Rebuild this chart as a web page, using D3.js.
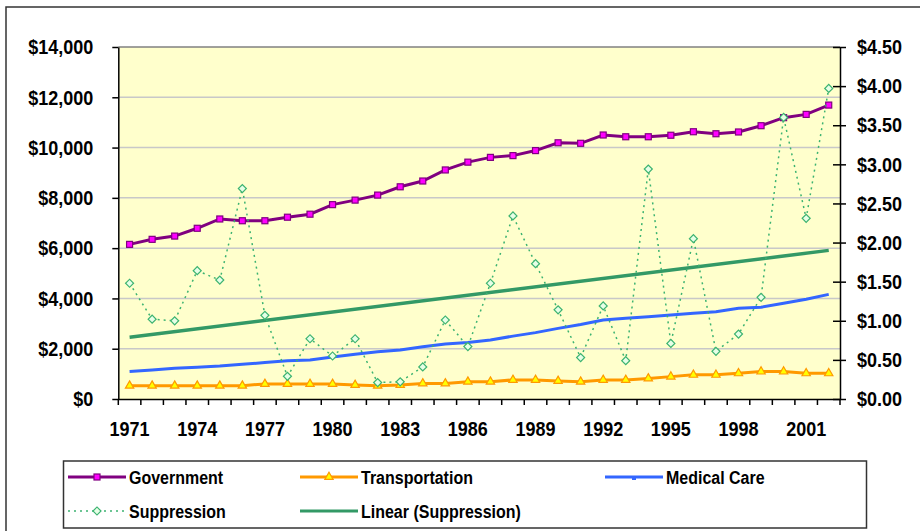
<!DOCTYPE html>
<html>
<head>
<meta charset="utf-8">
<script src="https://cdn.jsdelivr.net/npm/d3@7"></script>
<style>
    body { margin: 0; background: #fff; }
    text { font-family: "Liberation Sans", Arial, sans-serif; font-weight: bold; fill: #000; }
</style>
</head>
<body>
<div id="chart"></div>
<script>
// categories
const years = [1971, 1972, 1973, 1974, 1975, 1976, 1977, 1978, 1979, 1980,
    1981, 1982, 1983, 1984, 1985, 1986, 1987, 1988, 1989, 1990,
    1991, 1992, 1993, 1994, 1995, 1996, 1997, 1998, 1999, 2000,
    2001, 2002];
const yearLabels = [1971, 1974, 1977, 1980, 1983, 1986, 1989, 1992, 1995, 1998, 2001];

// left axis series (dollars)
const government = [6150, 6350, 6480, 6790, 7160, 7090, 7090, 7230, 7350, 7730,
    7910, 8110, 8440, 8670, 9110, 9420, 9610, 9680, 9880, 10190,
    10170, 10500, 10430, 10430, 10490, 10630, 10550, 10620, 10870, 11190,
    11320, 11690];
const transportation = [530, 530, 530, 530, 530, 530, 600, 600, 600, 600,
    560, 530, 560, 620, 620, 690, 690, 760, 760, 720,
    690, 760, 760, 820, 890, 960, 960, 1020, 1090, 1090,
    1020, 1020];
const medical = [1090, 1150, 1220, 1260, 1310, 1380, 1450, 1520, 1550, 1670,
    1780, 1880, 1950, 2080, 2190, 2250, 2350, 2500, 2640, 2810,
    2960, 3140, 3210, 3270, 3340, 3410, 3470, 3610, 3650, 3810,
    3970, 4160];

// right axis series
const suppression = [1.48, 1.02, 1.00, 1.64, 1.52, 2.69, 1.07, 0.29, 0.77, 0.55,
    0.77, 0.21, 0.22, 0.41, 1.01, 0.67, 1.48, 2.34, 1.73, 1.14,
    0.53, 1.19, 0.49, 2.94, 0.71, 2.05, 0.61, 0.83, 1.30, 3.60,
    2.31, 3.97];
// linear trend of suppression, read at first and last year
const trendYears = [1971, 2002];
const trendValues = [0.79, 1.90];

const leftTicks = [0, 2000, 4000, 6000, 8000, 10000, 12000, 14000];
const rightTicks = [0, 0.5, 1, 1.5, 2, 2.5, 3, 3.5, 4, 4.5];

const width = 920, height = 531;
const margin = {top: 47, left: 118.3, right: 80, bottom: 132};
const plotW = width - margin.left - margin.right;
const plotH = height - margin.top - margin.bottom;

const svg = d3.select("#chart").append("svg")
    .attr("width", width)
    .attr("height", height);

// outer frame
svg.append("rect")
    .attr("x", 6).attr("y", 7)
    .attr("width", width).attr("height", height)
    .attr("fill", "none")
    .attr("stroke", "#333")
    .attr("stroke-width", 1.5);

const g = svg.append("g")
    .attr("transform", `translate(${margin.left}, ${margin.top})`);

const x = d3.scaleBand()
    .domain(years)
    .range([0, plotW]);

const yLeft = d3.scaleLinear()
    .domain([0, 14000])
    .range([plotH, 0]);

const yRight = d3.scaleLinear()
    .domain([0, 4.5])
    .range([plotH, 0]);

const cx = d => x(d) + x.bandwidth() / 2;

// plot background
g.append("rect")
    .attr("width", plotW)
    .attr("height", plotH)
    .attr("fill", "#FFFFCC");

// gridlines
g.selectAll(".grid")
    .data(leftTicks.slice(1))
    .join("line")
    .attr("x1", 0).attr("x2", plotW)
    .attr("y1", d => yLeft(d)).attr("y2", d => yLeft(d))
    .attr("stroke", d => d === 14000 ? "#808080" : "#C8C8C8")
    .attr("stroke-width", 1.5);

// axes
const fmtLeft = d => "$" + d3.format(",")(d);
const fmtRight = d => "$" + d3.format(".2f")(d);

const leftAxis = g.append("g")
    .call(d3.axisLeft(yLeft).tickValues(leftTicks).tickFormat(fmtLeft)
        .tickSize(6).tickSizeOuter(0).tickPadding(19));

const rightAxis = g.append("g")
    .attr("transform", `translate(${plotW}, 0)`)
    .call(d3.axisRight(yRight).tickValues(rightTicks).tickFormat(fmtRight)
        .tickSize(6).tickSizeOuter(0).tickPadding(11));
rightAxis.selectAll(".tick line").attr("x1", -7);

const bottomAxis = g.append("g")
    .attr("transform", `translate(0, ${plotH})`)
    .call(d3.axisBottom(x).tickValues(yearLabels).tickSize(0).tickPadding(19));
bottomAxis.selectAll(".tick line").remove();

// tick marks at category boundaries
bottomAxis.selectAll(".bound")
    .data(years.concat([null]))
    .join("line")
    .attr("x1", d => d === null ? plotW : x(d))
    .attr("x2", d => d === null ? plotW : x(d))
    .attr("y1", 0).attr("y2", 6)
    .attr("stroke", "#000")
    .attr("stroke-width", 1.5);

[leftAxis, rightAxis, bottomAxis].forEach(a => {
    a.select(".domain").attr("stroke", "#000").attr("stroke-width", 1.5);
    a.selectAll(".tick line").attr("stroke", "#000").attr("stroke-width", 1.5);
    a.attr("font-family", null).attr("font-size", null);
    a.selectAll("text")
        .style("font-size", "18px")
        .attr("transform", "scale(1,1.17)");
});
bottomAxis.selectAll("text").attr("dy", "0.7em");

// series
const lineOf = (scale, data) => d3.line()
    .x((d, i) => cx(years[i]))
    .y(d => scale(d))(data);

g.append("path")
    .attr("d", lineOf(yLeft, government))
    .attr("fill", "none")
    .attr("stroke", "#800080")
    .attr("stroke-width", 3);

g.selectAll(".gov")
    .data(government)
    .join("rect")
    .attr("x", (d, i) => cx(years[i]) - 3)
    .attr("y", d => yLeft(d) - 3)
    .attr("width", 6).attr("height", 6)
    .attr("fill", "#FF00FF")
    .attr("stroke", "#800080")
    .attr("stroke-width", 1.2);

g.append("path")
    .attr("d", lineOf(yLeft, transportation))
    .attr("fill", "none")
    .attr("stroke", "#FF9900")
    .attr("stroke-width", 3);

const tri = d3.symbol().type(d3.symbolTriangle).size(30);
g.selectAll(".trans")
    .data(transportation)
    .join("path")
    .attr("d", tri)
    .attr("transform", (d, i) => `translate(${cx(years[i])}, ${yLeft(d)})`)
    .attr("fill", "#FFFF00")
    .attr("stroke", "#FF9900")
    .attr("stroke-width", 1.2);

g.append("path")
    .attr("d", lineOf(yLeft, medical))
    .attr("fill", "none")
    .attr("stroke", "#3366FF")
    .attr("stroke-width", 3);

// trend line
g.append("path")
    .attr("d", d3.line()
        .x((d, i) => cx(trendYears[i]))
        .y(d => yRight(d))(trendValues))
    .attr("fill", "none")
    .attr("stroke", "#339966")
    .attr("stroke-width", 3.5);

g.append("path")
    .attr("d", lineOf(yRight, suppression))
    .attr("fill", "none")
    .attr("stroke", "#3CB371")
    .attr("stroke-width", 1.5)
    .attr("stroke-dasharray", "2,4");

// square diamond: a square turned 45 degrees
const diamond = d3.symbol().type(d3.symbolSquare).size(32);
g.selectAll(".sup")
    .data(suppression)
    .join("path")
    .attr("d", diamond)
    .attr("transform", (d, i) => `translate(${cx(years[i])}, ${yRight(d)}) rotate(45)`)
    .attr("fill", "#E6FFE6")
    .attr("stroke", "#3CB371")
    .attr("stroke-width", 1.2);

// legend
const legend = svg.append("g");
legend.append("rect")
    .attr("x", 63.5).attr("y", 461)
    .attr("width", 803).attr("height", 67)
    .attr("fill", "#fff")
    .attr("stroke", "#333")
    .attr("stroke-width", 1.5);

const legendItems = [
    {name: "Government", color: "#800080", col: 68, row: 477, mark: "square"},
    {name: "Transportation", color: "#FF9900", col: 300, row: 477, mark: "triangle"},
    {name: "Medical Care", color: "#3366FF", col: 605, row: 477, mark: "tick"},
    {name: "Suppression", color: "#3CB371", col: 68, row: 511, mark: "diamond", dash: "2,4"},
    {name: "Linear (Suppression)", color: "#339966", col: 300, row: 511, mark: "none"}
];

legendItems.forEach(item => {
    const li = legend.append("g").attr("transform", `translate(${item.col}, ${item.row})`);
    li.append("line")
        .attr("x1", 0).attr("x2", 58)
        .attr("stroke", item.color)
        .attr("stroke-width", item.dash ? 1.5 : 3)
        .attr("stroke-dasharray", item.dash || null);
    if (item.mark === "square") {
        li.append("rect").attr("x", 26).attr("y", -3).attr("width", 6).attr("height", 6)
            .attr("fill", "#FF00FF").attr("stroke", "#800080").attr("stroke-width", 1.2);
    } else if (item.mark === "triangle") {
        li.append("path").attr("d", tri).attr("transform", "translate(29, 0)")
            .attr("fill", "#FFFF00").attr("stroke", "#FF9900").attr("stroke-width", 1.2);
    } else if (item.mark === "tick") {
        li.append("rect").attr("x", 27).attr("y", 0).attr("width", 4).attr("height", 3)
            .attr("fill", "#3366FF");
    } else if (item.mark === "diamond") {
        li.append("path").attr("d", diamond).attr("transform", "translate(29, 0) rotate(45)")
            .attr("fill", "#E6FFE6").attr("stroke", "#3CB371").attr("stroke-width", 1.2);
    }
    li.append("text")
        .attr("transform", "translate(61, 0) scale(1,1.18)")
        .attr("dy", "0.36em")
        .style("font-size", "16px")
        .text(item.name);
});
</script>
</body>
</html>
